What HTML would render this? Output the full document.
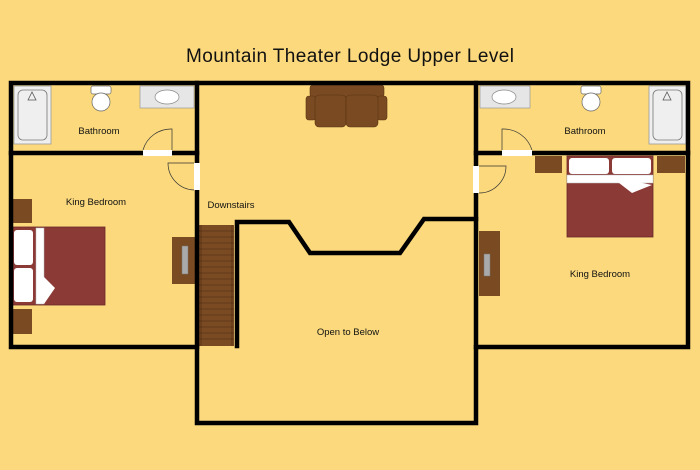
<!DOCTYPE html>
<html><head><style>html,body{margin:0;padding:0;background:#fbd97c}svg{display:block}</style></head>
<body>
<svg width="700" height="470" viewBox="0 0 700 470" xmlns="http://www.w3.org/2000/svg" font-family="Liberation Sans, Arial, sans-serif">
<rect width="700" height="470" fill="#fbd97c"/>
<text x="350" y="62" font-size="19" text-anchor="middle" textLength="328" fill="#111">Mountain Theater Lodge Upper Level</text>

<!-- fixtures left bath -->
<rect x="14" y="86" width="37" height="58" fill="#efefef" stroke="#999" stroke-width="0.8"/>
<rect x="18" y="90" width="29" height="50" rx="5" fill="none" stroke="#777" stroke-width="0.8"/>
<path d="M28 100 L32 92 L36 100 Z" fill="none" stroke="#555" stroke-width="0.8"/>
<rect x="91" y="86" width="20" height="8" rx="2" fill="#fff" stroke="#666" stroke-width="0.7"/>
<ellipse cx="101" cy="102" rx="9" ry="9" fill="#fff" stroke="#666" stroke-width="0.7"/>
<rect x="140" y="86" width="54" height="22" fill="#e6e6e6" stroke="#999" stroke-width="0.7"/>
<ellipse cx="167" cy="97" rx="12" ry="7" fill="#fff" stroke="#888" stroke-width="0.7"/>
<!-- right bath -->
<rect x="480" y="86" width="50" height="22" fill="#e6e6e6" stroke="#999" stroke-width="0.7"/>
<ellipse cx="504" cy="97" rx="12" ry="7" fill="#fff" stroke="#888" stroke-width="0.7"/>
<rect x="581" y="86" width="20" height="8" rx="2" fill="#fff" stroke="#666" stroke-width="0.7"/>
<ellipse cx="591" cy="102" rx="9" ry="9" fill="#fff" stroke="#666" stroke-width="0.7"/>
<rect x="649" y="86" width="37" height="58" fill="#efefef" stroke="#999" stroke-width="0.8"/>
<rect x="653" y="90" width="29" height="50" rx="5" fill="none" stroke="#777" stroke-width="0.8"/>
<path d="M663 100 L667 92 L671 100 Z" fill="none" stroke="#555" stroke-width="0.8"/>

<!-- sofa -->
<rect x="310" y="85" width="74" height="12" rx="3" fill="#7a4a22" stroke="#5a3512" stroke-width="0.6"/>
<rect x="306" y="96" width="10" height="24" rx="3" fill="#7a4a22" stroke="#5a3512" stroke-width="0.6"/>
<rect x="377" y="96" width="10" height="24" rx="3" fill="#7a4a22" stroke="#5a3512" stroke-width="0.6"/>
<rect x="315" y="95" width="31" height="32" rx="4" fill="#7a4a22" stroke="#5a3512" stroke-width="0.6"/>
<rect x="346" y="95" width="32" height="32" rx="4" fill="#7a4a22" stroke="#5a3512" stroke-width="0.6"/>

<!-- left bedroom furniture -->
<rect x="12" y="199" width="20" height="24" fill="#7a4a22"/>
<rect x="12" y="309" width="20" height="25" fill="#7a4a22"/>
<rect x="12" y="227" width="93" height="78" fill="#8b3a36" stroke="#6a2a28" stroke-width="0.8"/>
<rect x="14" y="230" width="19" height="35" rx="3" fill="#fff"/>
<rect x="14" y="268" width="19" height="34" rx="3" fill="#fff"/>
<rect x="36" y="228" width="8" height="76" fill="#fff" stroke="#bbb" stroke-width="0.5"/>
<path d="M37 270 L55 288 L44 304 Z" fill="#fff"/>
<rect x="172" y="237" width="23" height="47" fill="#7a4a22"/>
<rect x="182" y="246" width="6" height="28" fill="#aaa" stroke="#777" stroke-width="0.5"/>

<!-- right bedroom furniture -->
<rect x="535" y="156" width="27" height="17" fill="#7a4a22"/>
<rect x="657" y="156" width="28" height="17" fill="#7a4a22"/>
<rect x="567" y="156" width="86" height="81" fill="#8b3a36" stroke="#6a2a28" stroke-width="0.8"/>
<rect x="569" y="158" width="40" height="16" rx="3" fill="#fff"/>
<rect x="612" y="158" width="39" height="16" rx="3" fill="#fff"/>
<rect x="567" y="175" width="86" height="8" fill="#fff" stroke="#bbb" stroke-width="0.5"/>
<path d="M610 176 L652 185 L632 193 Z" fill="#fff"/>
<rect x="479" y="231" width="21" height="65" fill="#7a4a22"/>
<rect x="484" y="254" width="6" height="22" fill="#aaa" stroke="#777" stroke-width="0.5"/>

<!-- stairs -->
<rect x="199" y="225" width="35" height="121" fill="#7a4a22"/>
<g stroke="#4a2a10" stroke-width="0.6">
<line x1="201" y1="225" x2="201" y2="346"/><line x1="232" y1="225" x2="232" y2="346"/>
<line x1="199" y1="231" x2="234" y2="231"/><line x1="199" y1="237" x2="234" y2="237"/><line x1="199" y1="243" x2="234" y2="243"/><line x1="199" y1="249" x2="234" y2="249"/><line x1="199" y1="255" x2="234" y2="255"/><line x1="199" y1="261" x2="234" y2="261"/><line x1="199" y1="267" x2="234" y2="267"/><line x1="199" y1="273" x2="234" y2="273"/><line x1="199" y1="279" x2="234" y2="279"/><line x1="199" y1="285" x2="234" y2="285"/><line x1="199" y1="291" x2="234" y2="291"/><line x1="199" y1="297" x2="234" y2="297"/><line x1="199" y1="303" x2="234" y2="303"/><line x1="199" y1="309" x2="234" y2="309"/><line x1="199" y1="315" x2="234" y2="315"/><line x1="199" y1="321" x2="234" y2="321"/><line x1="199" y1="327" x2="234" y2="327"/><line x1="199" y1="333" x2="234" y2="333"/><line x1="199" y1="339" x2="234" y2="339"/>
</g>

<!-- walls -->
<g stroke="#000" stroke-width="4.5" fill="none" stroke-linecap="square">
<path d="M11 83 H688 V347 H476 V423 H197 V347 H11 Z"/>
<line x1="197" y1="83" x2="197" y2="347"/>
<line x1="476" y1="83" x2="476" y2="347"/>
<line x1="11" y1="153" x2="197" y2="153"/>
<line x1="476" y1="153" x2="688" y2="153"/>
<path d="M237 346 V222 H289 L310 253 H400 L424 219 H476"/>
</g>

<!-- door openings -->
<rect x="143" y="150" width="29" height="6" fill="#fff"/>
<rect x="194" y="163" width="6" height="27" fill="#fff"/>
<rect x="502" y="150" width="30" height="6" fill="#fff"/>
<rect x="473" y="166" width="6" height="27" fill="#fff"/>
<g stroke="#333" stroke-width="0.7" fill="none">
<path d="M143 150 A29 29 0 0 1 172 129 V150"/>
<path d="M194 190 A27 27 0 0 1 168 163 H194"/>
<path d="M532 150 A30 30 0 0 0 502 129 V150"/>
<path d="M479 193 A27 27 0 0 0 506 166 H479"/>
</g>

<g font-size="9.5" fill="#111" text-anchor="middle">
<text x="99" y="134">Bathroom</text>
<text x="96" y="205">King Bedroom</text>
<text x="231" y="208">Downstairs</text>
<text x="585" y="134">Bathroom</text>
<text x="600" y="277">King Bedroom</text>
<text x="348" y="335">Open to Below</text>
</g>
</svg>
</body></html>
